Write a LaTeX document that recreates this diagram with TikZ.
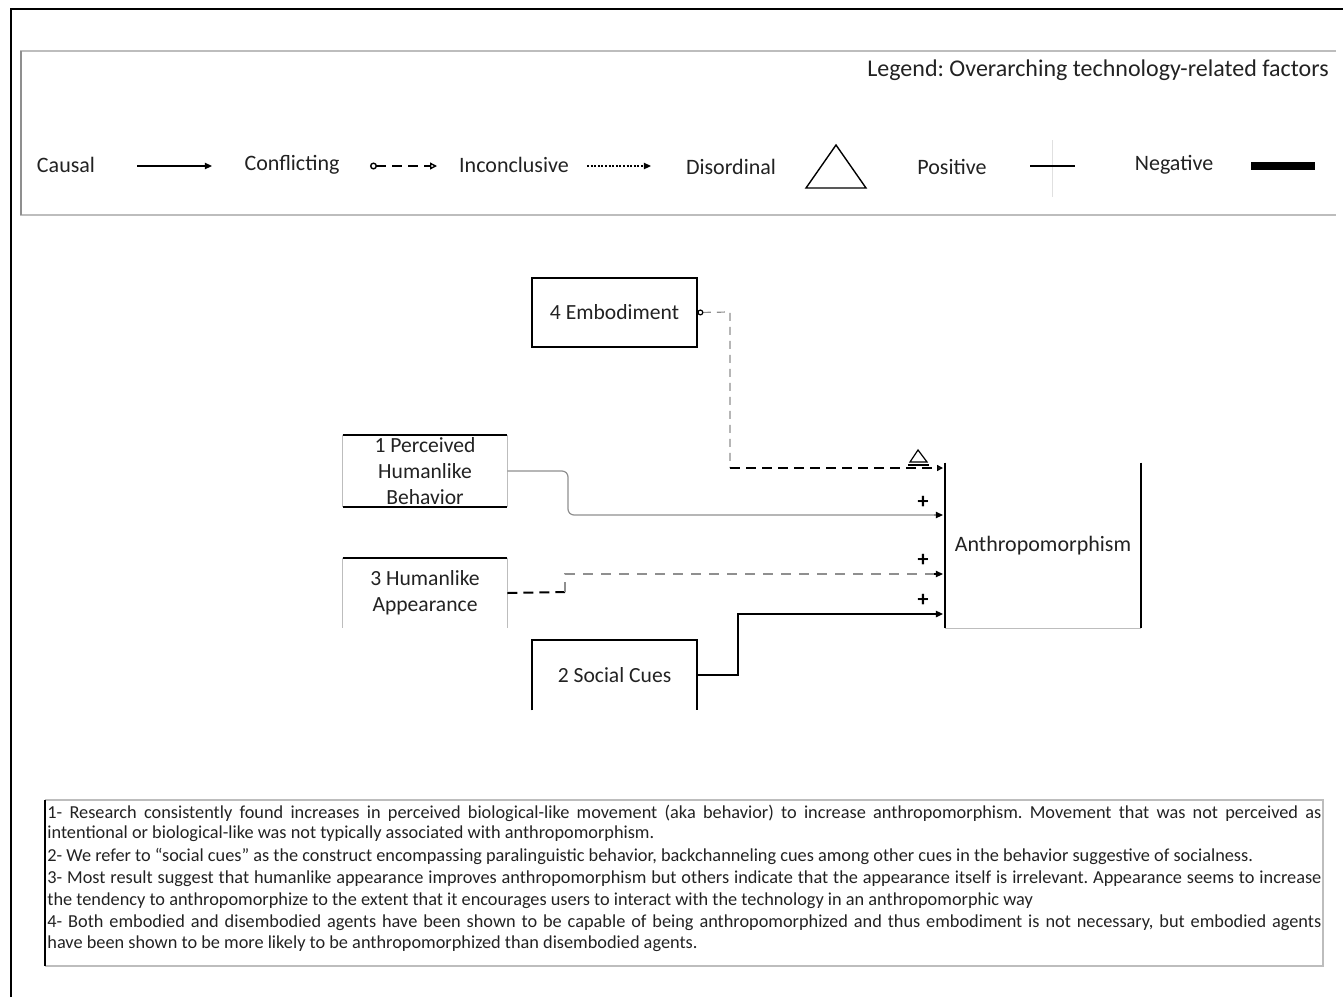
\documentclass[tikz,border=0pt]{standalone}
\usepackage{fontspec}
\setmainfont{Carlito}
\usetikzlibrary{arrows.meta,calc}
\definecolor{lgray}{HTML}{BDBDBD}
\definecolor{mgray}{HTML}{8F8F8F}
\definecolor{txt}{HTML}{222222}
\frenchspacing

\begin{document}
\begin{tikzpicture}[x=0.5pt,y=-0.5pt,
  boxtxt/.style={inner sep=0pt, align=center, text=txt,
    font=\fontsize{10.8}{13}\selectfont},
  legtxt/.style={inner sep=0pt, text=txt, font=\fontsize{11}{13}\selectfont},
  notetxt/.style={anchor=west, inner sep=0pt, text=txt,
    font=\fontsize{9.15}{11}\selectfont},
  heavy/.style={line width=1pt, black},
  faint/.style={line width=0.6pt, lgray},
  filltip/.style={-{Triangle[length=3.6pt,width=3.2pt]}},
  plussign/.style={inner sep=0pt, font=\fontsize{11}{13}\selectfont\bfseries}
]
\useasboundingbox (0,0) rectangle (1343,997);

% outer frame (left and top edges)
\draw[line width=1pt] (11,997) -- (11,9) -- (1343,9);

% ---------------- legend ----------------
\draw[line width=0.8pt, lgray] (1336,51) -- (21,51) -- (21,215) -- (1336,215);
\draw[line width=0.8pt, mgray] (21,51) -- (21,215);
\node[legtxt, anchor=east, font=\fontsize{12}{14}\selectfont] (legtitle) at (1329,70) {Legend: Overarching technology-related factors};

\node[legtxt] (lcausal) at (66,165) {Causal};
\coordinate (lc1) at (137,166); \coordinate (lc2) at (212,166);
\draw[line width=0.7pt, filltip] (lc1) -- (lc2);

\node[legtxt] (lconf) at (292,165) {Conflicting};
\coordinate (lf1) at (370,166); \coordinate (lf2) at (437,166);
\draw[line width=0.7pt, dash pattern=on 5pt off 3pt,
  {Circle[open,length=3.5pt,width=3.5pt]}-{Triangle[open,length=3.5pt,width=3.5pt]}] (lf1) -- (lf2);

\node[legtxt] (linc) at (514,165) {Inconclusive};
\coordinate (li1) at (587,166); \coordinate (li2) at (651,166);
\draw[line width=0.7pt, dash pattern=on 1pt off 0.8pt, filltip] (li1) -- (li2);

\node[legtxt] (ldis) at (731,167) {Disordinal};
\draw[line width=0.7pt, line join=miter] (836,145) -- (866,188) -- (806,188) -- cycle;

\node[legtxt] (lpos) at (952,167) {Positive};
\draw[line width=0.4pt, black!12] (1052,140) -- (1052,197);
\draw[line width=0.7pt] (1030,166) -- (1075,166);

\node[legtxt] (lneg) at (1174,165) {Negative};
\draw[line width=4pt] (1251,166) -- (1315,166);

% ---------------- factor boxes ----------------
\node[boxtxt, minimum width=82.5pt, minimum height=34.5pt] (emb) at (614.5,312.5) {4 Embodiment};
\draw[heavy] (emb.north west) rectangle (emb.south east);

\node[boxtxt, minimum width=82pt, minimum height=36pt] (beh) at (425,471) {1 Perceived\\Humanlike\\Behavior};
\draw[faint] (beh.north west) -- (beh.south west) (beh.north east) -- (beh.south east);
\draw[heavy] (beh.north west) -- (beh.north east) (beh.south west) -- (beh.south east);

\node[boxtxt, minimum width=82pt, minimum height=35pt] (app) at (425,593) {3 Humanlike\\Appearance};
\draw[faint] (app.north west) -- (app.south west) (app.north east) -- (app.south east);
\draw[heavy] (app.north west) -- (app.north east);

\node[boxtxt, minimum width=82.5pt, minimum height=35pt] (soc) at (614.5,675) {2 Social Cues};
\draw[heavy] (soc.south west) -- (soc.north west) -- (soc.north east) -- (soc.south east);

% ---------------- outcome ----------------
\node[inner sep=0pt, text=txt, minimum width=98pt, minimum height=82.5pt,
  font=\fontsize{11}{13}\selectfont] (anth) at (1043,545.5) {Anthropomorphism};
\draw[faint] (anth.south west) -- (anth.south east);
\draw[heavy] (anth.north west) -- (anth.south west) (anth.north east) -- (anth.south east);

% ports on the outcome box
\coordinate (pE) at (943,468);
\coordinate (pB) at (943,515);
\coordinate (pA) at (943,574);
\coordinate (pS) at (943,614);

% ---------------- connectors ----------------
% embodiment: disordinal, conflicting
\coordinate (e1) at (730,312);
\coordinate (e2) at (730,468);
\draw[line width=0.6pt, mgray, dash pattern=on 4pt off 3pt,
  {Circle[open,black,length=3pt,width=3pt]}-] (emb.east) -- (e1) -- (e2);
\draw[line width=1pt, dash pattern=on 5pt off 3pt,
  -{Triangle[open,length=3pt,width=3pt]}] (e2) -- (pE);
\draw[line width=0.6pt] (918,450) -- (927,462) -- (910,462) -- cycle;
\draw[line width=0.9pt] (908,465) -- (929,465);

% perceived behavior: causal, positive
\coordinate (b1) at (568,471);
\coordinate (b2) at (568,515);
\draw[line width=0.6pt, mgray, rounded corners=3pt] (beh.east) -- (b1) -- (b2) -- ($(pB)+(-8,0)$);
\draw[line width=0.6pt, mgray, -{Triangle[black,length=3.6pt,width=3.2pt]}] ($(pB)+(-9,0)$) -- (pB);
\node[plussign] (plusB) at (923,502) {+};

% humanlike appearance: conflicting, positive
\coordinate (a1) at (565,592);
\coordinate (a2) at (565,574);
\draw[line width=1pt, dash pattern=on 5pt off 3pt] (app.east) -- (a1);
\draw[line width=0.6pt, mgray, dash pattern=on 5pt off 4pt] (a1) -- (a2) -- ($(pA)+(-8,0)$);
\draw[line width=0.6pt, -{Triangle[black,length=3.6pt,width=3.2pt]}] ($(pA)+(-9,0)$) -- (pA);
\node[plussign] (plusA) at (923,560) {+};

% social cues: causal, positive
\coordinate (s1) at (738,675);
\coordinate (s2) at (738,614);
\draw[line width=0.8pt, filltip] (soc.east) -- (s1) -- (s2) -- (pS);
\node[plussign] (plusS) at (923,600) {+};

% ---------------- notes ----------------
\draw[line width=0.8pt, lgray] (45,800) -- (1323,800) -- (1323,966) -- (45,966);
\draw[line width=1pt] (45,800) -- (45,966);

\node[notetxt] (n1) at (47,813) {\makebox[637pt][s]{1- Research consistently found increases in perceived biological-like movement (aka behavior) to increase anthropomorphism. Movement that was not perceived as}};
\node[notetxt] (n2) at (47,834) {intentional or biological-like was not typically associated with anthropomorphism.};
\node[notetxt] (n3) at (47,856) {2- We refer to “social cues” as the construct encompassing paralinguistic behavior, backchanneling cues among other cues in the behavior suggestive of socialness.};
\node[notetxt] (n4) at (47,879) {\makebox[637pt][s]{3- Most result suggest that humanlike appearance improves anthropomorphism but others indicate that the appearance itself is irrelevant. Appearance seems to increase}};
\node[notetxt] (n5) at (47,901) {the tendency to anthropomorphize to the extent that it encourages users to interact with the technology in an anthropomorphic way};
\node[notetxt] (n6) at (47,923) {\makebox[637pt][s]{4- Both embodied and disembodied agents have been shown to be capable of being anthropomorphized and thus embodiment is not necessary, but embodied agents}};
\node[notetxt] (n7) at (47,944) {have been shown to be more likely to be anthropomorphized than disembodied agents.};
\end{tikzpicture}
\end{document}
